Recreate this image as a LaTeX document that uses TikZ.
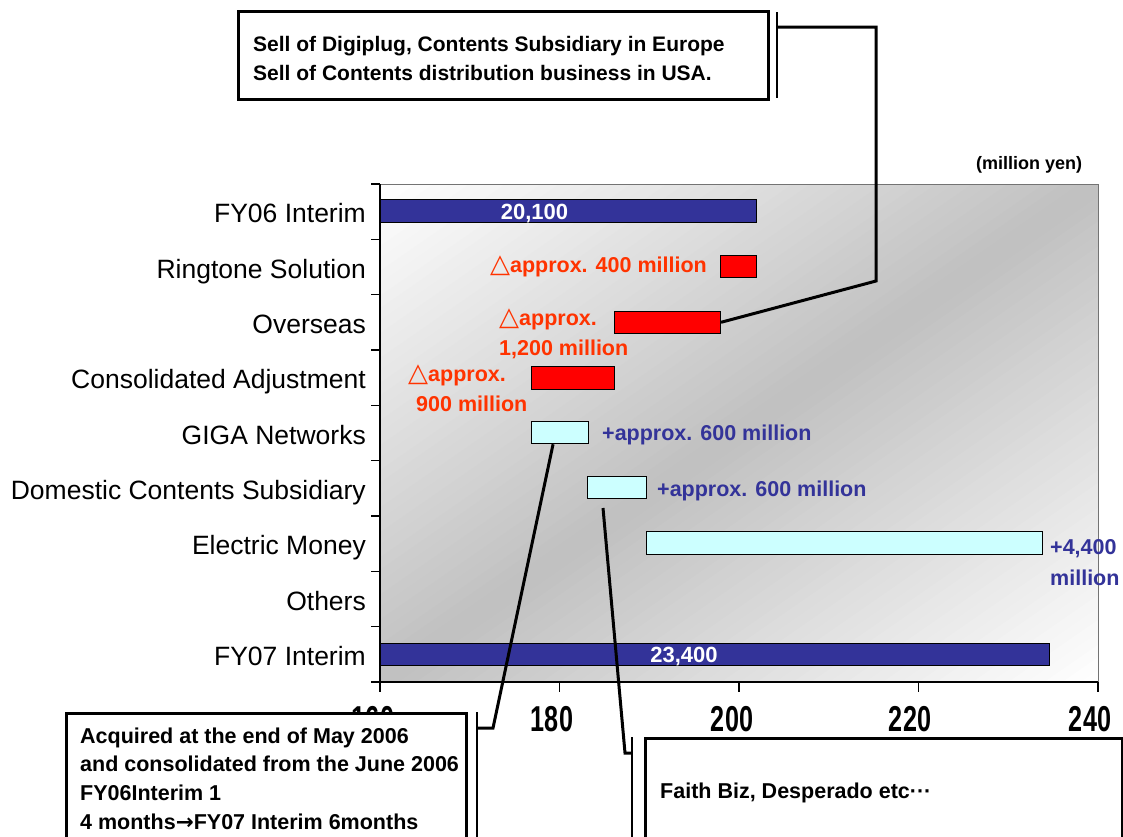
\documentclass[tikz,border=0pt]{standalone}
\usepackage{fontspec}
\setmainfont{Liberation Sans}
\newfontfamily\symfont{DejaVu Sans}
\usepackage{graphicx}
\usetikzlibrary{calc}
\definecolor{navybar}{HTML}{333399}
\definecolor{redtext}{HTML}{FF3300}
\definecolor{cyanbar}{HTML}{CCFFFF}
\definecolor{bggray}{HTML}{C0C0C0}
\newcommand\tri{{\symfont\fontsize{26}{26}\selectfont △}}
\newcommand\rarr{{\symfont\bfseries →}}
\newcommand\axnum[1]{\scalebox{0.7}[1]{#1}}
\begin{document}
\begin{tikzpicture}[x=1pt,y=-1pt,
  bar/.style={draw=black, line width=1pt, minimum height=22.5pt, inner sep=0pt, anchor=west},
  catlab/.style={anchor=base east, inner sep=0pt, font=\fontsize{26.5}{30}\selectfont},
  redlab/.style={inner sep=0pt, text=redtext, font=\bfseries\fontsize{21.5}{26}\selectfont},
  bluelab/.style={inner sep=0pt, text=navybar, font=\bfseries\fontsize{21.5}{26}\selectfont},
  whitelab/.style={anchor=base, inner sep=0pt, text=white, font=\bfseries\fontsize{22}{26}\selectfont},
  axlab/.style={anchor=base, inner sep=0pt, font=\bfseries\fontsize{36}{40}\selectfont},
  callbox/.style={draw=black, line width=3pt, fill=white, inner sep=0pt, anchor=north west},
  boxtext/.style={anchor=base west, inner sep=0pt, align=left, font=\bfseries\fontsize{21.5}{28.6}\selectfont},
  lead/.style={line width=3pt, line join=miter},
  accent/.style={line width=2.5pt}
]
\useasboundingbox (0,0) rectangle (1123,836);
\clip (0,0) rectangle (1123,836);
\fill[white] (0,0) rectangle (1123,836);

% plot background (diagonal gradient)
\begin{scope}
\clip (380,184) rectangle (1098,682);
\foreach \i in {0,...,79}{
  \pgfmathsetmacro\s{\i/40}
  \pgfmathsetmacro\t{(\i+1.5)/40}
  \pgfmathsetmacro\p{100*(1-abs(1-(\i+0.5)/40))}
  \fill[bggray!\p!white] (380+718*\s,184) -- (380,184+498*\s) -- (380,184+498*\t) -- (380+718*\t,184) -- cycle;
}
\end{scope}
\draw[black!55, line width=0.8pt] (380,184) -- (1098,184) -- (1098,682);

% bars
\node[bar, fill=navybar, minimum width=376pt] (fy06) at (380,211) {};
\node[bar, fill=red, minimum width=36pt] (ring) at (720,266.5) {};
\node[bar, fill=red, minimum width=106pt] (over) at (614,322.3) {};
\node[bar, fill=red, minimum width=82.7pt] (cons) at (531.3,378) {};
\node[bar, fill=cyanbar, minimum width=57pt] (giga) at (531.3,432.5) {};
\node[bar, fill=cyanbar, minimum width=58.7pt] (dom) at (587.3,487.5) {};
\node[bar, fill=cyanbar, minimum width=396pt] (elec) at (646,543) {};
\node[bar, fill=navybar, minimum width=669pt] (fy07) at (380,654.7) {};

% axes
\draw[line width=1.2pt] (380,184) -- (380,682) -- (1098,682);
\foreach \k in {0,...,9} \draw[line width=1.2pt] (371,184+55.333*\k) -- (380,184+55.333*\k);
\foreach \k in {0,...,4} \draw[line width=1.2pt] (380+179.5*\k,682) -- ++(0,10);

% category labels
\node[catlab] (c1) at (366,222.7) {FY06 Interim};
\node[catlab] (c2) at (366,278) {Ringtone Solution};
\node[catlab] (c3) at (366,333.3) {Overseas};
\node[catlab] (c4) at (366,388.7) {Consolidated Adjustment};
\node[catlab] (c5) at (366,444) {GIGA Networks};
\node[catlab] (c6) at (366,499.3) {Domestic Contents Subsidiary};
\node[catlab] (c7) at (366,554.7) {Electric Money};
\node[catlab] (c8) at (366,610) {Others};
\node[catlab] (c9) at (366,665.3) {FY07 Interim};

% value labels
\node[whitelab] (v1) at (534.5,219) {20,100};
\node[whitelab] (v2) at (684,662.5) {23,400};
\node[redlab, anchor=base east] (r1) at (707,272) {\tri approx. 400 million};
\node[redlab, anchor=base west] (r2a) at (499,325.5) {\tri approx.};
\node[redlab, anchor=base west] (r2b) at (499,355.7) {1,200 million};
\node[redlab, anchor=base west] (r3a) at (408,381) {\tri approx.};
\node[redlab, anchor=base west] (r3b) at (416,411) {900 million};
\node[bluelab, anchor=base west] (b1) at (602,440.5) {+approx. 600 million};
\node[bluelab, anchor=base west] (b2) at (657,496.5) {+approx. 600 million};
\node[bluelab, anchor=base west] (b3a) at (1050,554) {+4,400};
\node[bluelab, anchor=base west] (b3b) at (1050,585.5) {million};

\node[anchor=base, inner sep=0pt, font=\bfseries\fontsize{18}{20}\selectfont] (unit) at (1029,169) {(million yen)};

% axis numbers
\node[axlab] (a160) at (373,731) {\axnum{160}};
\node[axlab] (a180) at (552,731) {\axnum{180}};
\node[axlab] (a200) at (732,731) {\axnum{200}};
\node[axlab] (a220) at (910,731) {\axnum{220}};
\node[axlab] (a240) at (1090,731) {\axnum{240}};

% callout boxes (multi-line text: base anchor is the last line's baseline)
\node[callbox, minimum width=530pt, minimum height=88pt] (topbox) at (237,10) {};
\node[boxtext, font=\bfseries\fontsize{21}{29}\selectfont] (toptext) at (253,80.5) {Sell of Digiplug, Contents Subsidiary in Europe\\Sell of Contents distribution business in USA.};
\node[callbox, minimum width=400pt, minimum height=160pt] (leftbox) at (65,712) {};
\node[boxtext] (lefttext) at (80,829.1) {Acquired at the end of May 2006\\and consolidated from the June 2006\\FY06Interim 1\\4 months\rarr FY07 Interim 6months};
\node[callbox, minimum width=477pt, minimum height=140pt] (rightbox) at (644,737) {};
\node[boxtext] (righttext) at (660,798) {Faith Biz, Desperado etc···};

% leaders
\coordinate (ta) at (777,12);
\coordinate (tb) at (777,98);
\coordinate (tc) at (777,27);
\coordinate (td) at (876,27);
\coordinate (te) at (876,281);
\draw[accent] (ta) -- (tb);
\draw[lead] (tc) -- (td) -- (te) -- (over.east);

\coordinate (la) at (477,712);
\coordinate (lb) at (477,860);
\coordinate (lc) at (477,728);
\coordinate (ld) at (493,728);
\draw[accent] (la) -- (lb);
\draw[lead] (lc) -- (ld) -- ($(giga.south west)!0.375!(giga.south east)$);

\coordinate (ra) at (632,737);
\coordinate (rb) at (632,860);
\coordinate (rc) at (632,753);
\coordinate (rd) at (625,753);
\coordinate (re) at (603,508);
\draw[accent] (ra) -- (rb);
\draw[lead] (rc) -- (rd) -- (re);
\end{tikzpicture}
\end{document}
